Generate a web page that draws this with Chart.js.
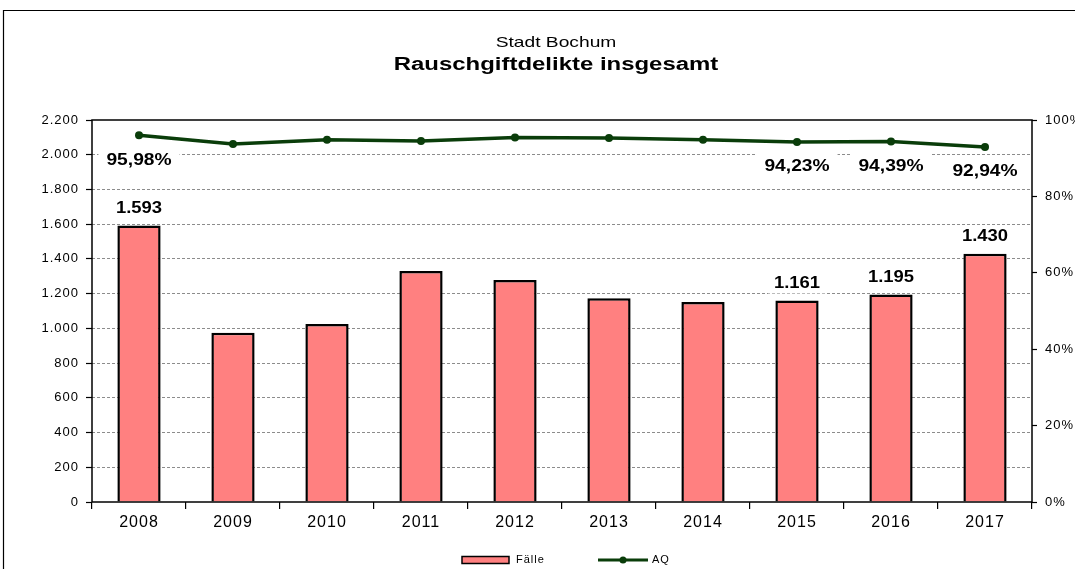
<!DOCTYPE html>
<html>
<head>
<meta charset="utf-8">
<script src="https://cdn.jsdelivr.net/npm/chart.js@4/dist/chart.umd.min.js"></script>
<style>
html,body{margin:0;padding:0;background:#fff;}
#wrap{width:1075px;height:569px;position:relative;}
</style>
</head>
<body>
<div id="wrap"><canvas id="c" width="1075" height="569"></canvas></div>
<script>
const categories = ['2008','2009','2010','2011','2012','2013','2014','2015','2016','2017'];
const faelle = [1593, 975, 1025, 1330, 1278, 1173, 1152, 1161, 1195, 1430];
const aq = [95.98, 93.7, 94.8, 94.5, 95.4, 95.3, 94.8, 94.23, 94.39, 92.94];
const labeledIndex = [0, 7, 8, 9];
const leftTicks = [0, 200, 400, 600, 800, 1000, 1200, 1400, 1600, 1800, 2000, 2200];
const rightTicks = [0, 20, 40, 60, 80, 100];
const titleTop = 'Stadt Bochum';
const titleMain = 'Rauschgiftdelikte insgesamt';

const FONT = '"Liberation Sans", Arial, sans-serif';
function fmtThousands(v){ return String(v).replace(/\B(?=(\d{3})+(?!\d))/g, '.'); }
function fmtPct(v){ return v.toFixed(2).replace('.', ',') + '%'; }

function drawStretched(ctx, text, x, y, font, sx, align){
  ctx.save();
  ctx.font = font;
  ctx.letterSpacing = '0px';
  ctx.textBaseline = 'middle';
  ctx.textAlign = 'left';
  const w = ctx.measureText(text).width * sx;
  let left = x;
  if (align === 'center') left = x - w/2;
  ctx.translate(left, y);
  ctx.scale(sx, 1);
  ctx.fillStyle = '#000';
  ctx.fillText(text, 0, 0);
  ctx.restore();
  return w;
}

const customPlugin = {
  id: 'custom',
  beforeDraw(chart){
    const ctx = chart.ctx;
    ctx.letterSpacing = '1px';
    ctx.save();
    ctx.fillStyle = '#fff';
    ctx.fillRect(0,0,chart.width,chart.height);
    ctx.strokeStyle = '#000';
    ctx.lineWidth = 1.2;
    ctx.beginPath();
    ctx.moveTo(3.5, chart.height);
    ctx.lineTo(3.5, 10.5);
    ctx.lineTo(chart.width, 10.5);
    ctx.stroke();
    ctx.restore();
    drawStretched(ctx, titleTop, 556, 43, '15px ' + FONT, 1.28, 'center');
    drawStretched(ctx, titleMain, 556, 65, 'bold 18px ' + FONT, 1.33, 'center');
  },
  afterDatasetsDraw(chart){
    const ctx = chart.ctx;
    const ca = chart.chartArea;
    ctx.save();
    ctx.strokeStyle = '#000';
    ctx.lineWidth = 1.5;
    ctx.strokeRect(ca.left, ca.top, ca.right - ca.left, ca.bottom - ca.top);
    ctx.restore();
  },
  afterDraw(chart){
    const ctx = chart.ctx;
    const barMeta = chart.getDatasetMeta(0);
    const lineMeta = chart.getDatasetMeta(1);
    const lblFont = 'bold 16px ' + FONT;
    ctx.save();
    labeledIndex.forEach(i => {
      const b = barMeta.data[i];
      const p = lineMeta.data[i];
      let t = fmtThousands(faelle[i]);
      ctx.font = lblFont; ctx.letterSpacing='0px';
      let w = ctx.measureText(t).width * 1.15;
      let cy = b.y - 17;
      ctx.fillStyle = '#fff';
      ctx.fillRect(b.x - w/2 - 6, cy - 10, w + 12, 20);
      drawStretched(ctx, t, b.x, cy, lblFont, 1.15, 'center');
      t = fmtPct(aq[i]);
      ctx.font = lblFont; ctx.letterSpacing='0px';
      w = ctx.measureText(t).width * 1.2;
      cy = p.y + 25;
      ctx.fillStyle = '#fff';
      ctx.fillRect(p.x - w/2 - 8, cy - 16, w + 16, 30);
      drawStretched(ctx, t, p.x, cy, lblFont, 1.2, 'center');
    });
    const ly = 560;
    ctx.fillStyle = '#FF8080';
    ctx.strokeStyle = '#000';
    ctx.lineWidth = 1.5;
    ctx.fillRect(462, ly - 3.5, 47, 7);
    ctx.strokeRect(462, ly - 3.5, 47, 7);
    ctx.fillStyle = '#000';
    ctx.font = '11px ' + FONT;
    ctx.letterSpacing = '1px';
    ctx.textBaseline = 'middle';
    ctx.textAlign = 'left';
    ctx.fillText('Fälle', 516, ly);
    ctx.strokeStyle = '#0a3d0a';
    ctx.lineWidth = 3;
    ctx.beginPath(); ctx.moveTo(598, ly); ctx.lineTo(648, ly); ctx.stroke();
    ctx.fillStyle = '#0a3d0a';
    ctx.beginPath(); ctx.arc(623, ly, 3.5, 0, Math.PI*2); ctx.fill();
    ctx.fillStyle = '#000';
    ctx.fillText('AQ', 652, ly);
    ctx.restore();
  }
};

new Chart(document.getElementById('c'), {
  data: {
    labels: categories,
    datasets: [
      {
        type: 'bar', label: 'Fälle', data: faelle, yAxisID: 'y', order: 1,
        backgroundColor: '#FF8080', borderColor: '#000', borderWidth: 2.5,
        barPercentage: 0.46, categoryPercentage: 1.0
      },
      {
        type: 'line', label: 'AQ', data: aq, yAxisID: 'y1', order: 0,
        borderColor: '#0a3d0a', backgroundColor: '#0a3d0a', borderWidth: 3.5,
        pointRadius: 4, pointBackgroundColor: '#0a3d0a', pointBorderWidth: 0,
        tension: 0, fill: false
      }
    ]
  },
  options: {
    responsive: false,
    animation: false,
    devicePixelRatio: 1,
    layout: { padding: { top: 120, left: 0, right: 0, bottom: 0 } },
    plugins: { legend: { display: false }, title: { display: false }, tooltip: { enabled: false } },
    scales: {
      x: {
        offset: true,
        grid: { offset: true, drawOnChartArea: false, tickLength: 7, tickColor: '#000', lineWidth: 1.2 },
        border: { display: false },
        ticks: { color: '#000', padding: 4, font: { family: FONT, size: 16 } },
        afterFit(s){ s.height = 67; }
      },
      y: {
        position: 'left', min: 0, max: 2200,
        afterBuildTicks(s){ s.ticks = leftTicks.map(v => ({value: v})); },
        grid: {
          color: (c) => (c.tick && (c.tick.value === 0 || c.tick.value === 2200)) ? 'rgba(0,0,0,0)' : '#8c8c8c',
          lineWidth: 1, tickLength: 6, tickColor: '#000', tickBorderDash: [], tickWidth: 1.2
        },
        border: { display: false, dash: [3, 2] },
        ticks: { color: '#000', padding: 7, font: { family: FONT, size: 13 }, callback: (v) => fmtThousands(v) },
        afterFit(s){ s.width = 92; }
      },
      y1: {
        position: 'right', min: 0, max: 100,
        afterBuildTicks(s){ s.ticks = rightTicks.map(v => ({value: v})); },
        grid: { drawOnChartArea: false, tickLength: 5, tickColor: '#000', tickWidth: 1.2 },
        border: { display: false },
        ticks: { color: '#000', padding: 8, font: { family: FONT, size: 13 }, callback: (v) => v + '%' },
        afterFit(s){ s.width = 43; }
      }
    }
  },
  plugins: [customPlugin]
});
</script>
</body>
</html>
